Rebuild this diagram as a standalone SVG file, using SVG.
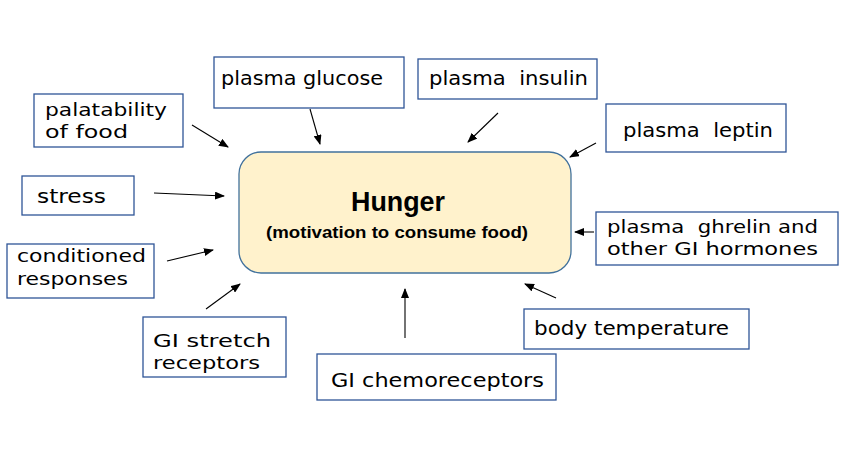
<svg xmlns="http://www.w3.org/2000/svg" width="854" height="459" viewBox="0 0 854 459">
<style>
.box{fill:#fff;stroke:#2F5597;stroke-width:1.3}
.lbl{font-family:"DejaVu Sans","Noto Sans",sans-serif;font-size:20px;fill:#000}
.two{font-size:18.5px}
.c{stroke:#000;stroke-width:1.1;fill:none;marker-end:url(#ah)}
.t1{font-family:"Liberation Sans",Arial,sans-serif;font-weight:bold;fill:#000;text-anchor:middle}
</style>
<defs>
<marker id="ah" markerUnits="userSpaceOnUse" markerWidth="10" markerHeight="8" viewBox="0 0 10 8" refX="9" refY="4" orient="auto">
<path d="M0,0 L10,4 L0,8 Z" fill="#000"/>
</marker>
</defs>
<rect width="854" height="459" fill="#fff"/>
<g id="connectors">
<line class="c" x1="192" y1="125" x2="228" y2="147"/>
<line class="c" x1="154" y1="193" x2="224" y2="196"/>
<line class="c" x1="167" y1="261" x2="213" y2="250"/>
<line class="c" x1="310" y1="109" x2="320" y2="144"/>
<line class="c" x1="498" y1="113" x2="468" y2="142"/>
<line class="c" x1="596" y1="143" x2="570" y2="157"/>
<line class="c" x1="594" y1="232" x2="575" y2="232"/>
<line class="c" x1="206" y1="309" x2="240" y2="284"/>
<line class="c" x1="405" y1="338" x2="405" y2="289"/>
<line class="c" x1="556" y1="298" x2="525" y2="284"/>
</g>
<g id="hunger">
<rect x="239" y="152" width="332" height="121" rx="22" fill="#FFF2CC" stroke="#41719C" stroke-width="1.3"/>
<text class="t1" x="398" y="211" font-size="27" textLength="94" lengthAdjust="spacingAndGlyphs">Hunger</text>
<text class="t1" x="397" y="238" font-size="17" textLength="262" lengthAdjust="spacingAndGlyphs">(motivation to consume food)</text>
</g>
<g id="palatability">
<rect class="box" x="34" y="94" width="149" height="53"/>
<text class="lbl two" x="45" y="116" textLength="122" lengthAdjust="spacingAndGlyphs">palatability</text>
<text class="lbl two" x="45" y="138" textLength="83" lengthAdjust="spacingAndGlyphs">of food</text>
</g>
<g id="stress">
<rect class="box" x="22" y="176" width="112" height="39"/>
<text class="lbl" x="37" y="203" textLength="69" lengthAdjust="spacingAndGlyphs">stress</text>
</g>
<g id="conditioned">
<rect class="box" x="7" y="244" width="147" height="54"/>
<text class="lbl two" x="17" y="262" textLength="129" lengthAdjust="spacingAndGlyphs">conditioned</text>
<text class="lbl two" x="17" y="285" textLength="111" lengthAdjust="spacingAndGlyphs">responses</text>
</g>
<g id="glucose">
<rect class="box" x="214" y="57" width="190" height="51"/>
<text class="lbl" x="221" y="85" textLength="162" lengthAdjust="spacingAndGlyphs">plasma glucose</text>
</g>
<g id="insulin">
<rect class="box" x="418" y="59" width="179" height="40"/>
<text class="lbl" x="429" y="85" textLength="159" lengthAdjust="spacingAndGlyphs" xml:space="preserve">plasma  insulin</text>
</g>
<g id="leptin">
<rect class="box" x="606" y="104" width="180" height="48"/>
<text class="lbl" x="623" y="137" textLength="150" lengthAdjust="spacingAndGlyphs" xml:space="preserve">plasma  leptin</text>
</g>
<g id="ghrelin">
<rect class="box" x="596" y="212" width="242" height="53"/>
<text class="lbl two" x="607" y="233" textLength="211" lengthAdjust="spacingAndGlyphs" xml:space="preserve">plasma  ghrelin and</text>
<text class="lbl two" x="607" y="255" textLength="211" lengthAdjust="spacingAndGlyphs">other GI hormones</text>
</g>
<g id="stretch">
<rect class="box" x="143" y="317" width="143" height="60"/>
<text class="lbl two" x="153" y="347" textLength="118" lengthAdjust="spacingAndGlyphs">GI stretch</text>
<text class="lbl two" x="153" y="369" textLength="107" lengthAdjust="spacingAndGlyphs">receptors</text>
</g>
<g id="chemo">
<rect class="box" x="317" y="354" width="239" height="46"/>
<text class="lbl" x="331" y="387" textLength="213" lengthAdjust="spacingAndGlyphs">GI chemoreceptors</text>
</g>
<g id="temperature">
<rect class="box" x="524" y="309" width="225" height="40"/>
<text class="lbl" x="534" y="335" textLength="195" lengthAdjust="spacingAndGlyphs">body temperature</text>
</g>
</svg>
